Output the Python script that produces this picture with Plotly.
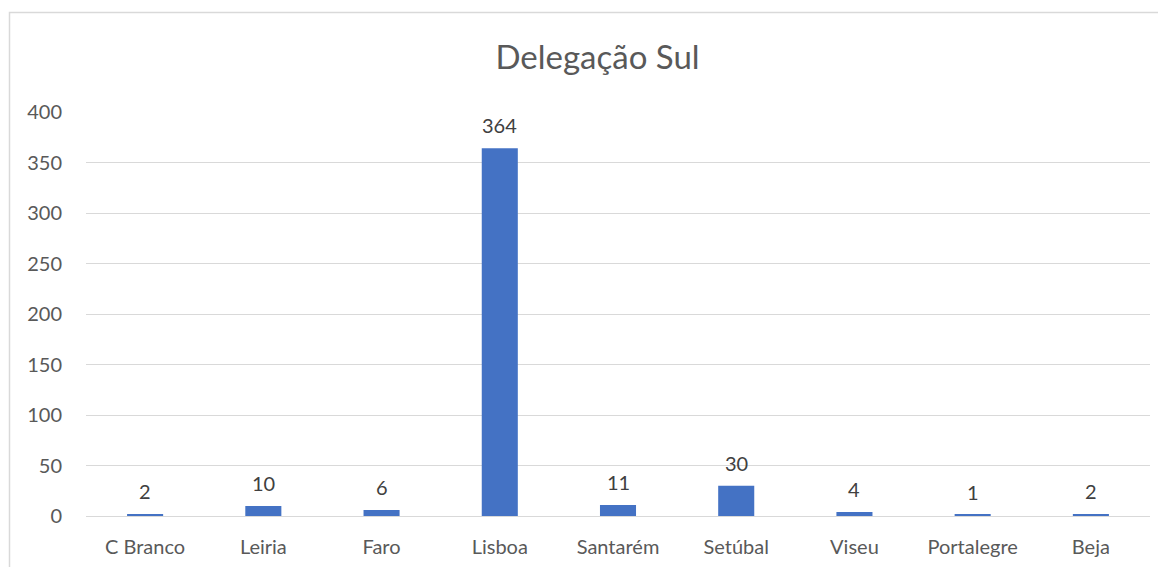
import plotly.graph_objects as go

categories = ["C Branco", "Leiria", "Faro", "Lisboa", "Santarém", "Setúbal", "Viseu", "Portalegre", "Beja"]
values = [2, 10, 6, 364, 11, 30, 4, 1, 2]
y_ticks = [0, 50, 100, 150, 200, 250, 300, 350, 400]

FONT = "Lato"
TXT = "#595959"
GRID = "#D9D9D9"

# page body has an 8px default margin; compensate so the picture lines up
OFF = 8
W, H = 1166, 567
L, T = 86 - OFF, 112 - OFF
R = W - (1150 - OFF)
B = H - (516 - OFF)
pw, ph = W - L - R, H - T - B

fig = go.Figure()
fig.add_trace(go.Bar(x=categories, y=values, marker=dict(color="#4472C4", line=dict(width=0)),
                     hoverinfo="x+y"))

annotations = [dict(x=c, y=v, text=str(v), showarrow=False, yshift=23, yanchor="middle",
                    font=dict(family=FONT, size=20, color="#404040"), xref="x", yref="y")
               for c, v in zip(categories, values)]

fig.update_layout(
    template="none",
    width=W, height=H,
    margin=dict(l=L, r=R, t=T, b=B, pad=0, autoexpand=False),
    paper_bgcolor="white", plot_bgcolor="white",
    bargap=0.695,
    showlegend=False,
    title=dict(text="Delegação Sul", x=(597.5 - OFF) / W, xanchor="center",
               y=1 - (57 - OFF) / H, yanchor="middle",
               font=dict(family=FONT, size=33, color=TXT)),
    annotations=annotations,
    shapes=[dict(type="rect", xref="paper", yref="paper",
                 x0=(9.5 - OFF - L) / pw, x1=(W + 20 - L) / pw,
                 y0=-(B + 20) / ph, y1=1 + (T - (12.5 - OFF)) / ph,
                 line=dict(color=GRID, width=1.5), fillcolor="rgba(0,0,0,0)", layer="below")],
    xaxis=dict(automargin=False, showgrid=False, showline=True, linecolor=GRID, linewidth=1, ticks="",
               tickfont=dict(family=FONT, size=20, color=TXT), ticklabelstandoff=13),
    yaxis=dict(automargin=False, range=[0, 400], tickvals=y_ticks, showgrid=True, gridcolor=GRID,
               gridwidth=1, zeroline=True, zerolinecolor=GRID, zerolinewidth=1, showline=False,
               ticks="", tickfont=dict(family=FONT, size=20, color=TXT), ticklabelstandoff=23),
)

fig.write_html("out.html")
